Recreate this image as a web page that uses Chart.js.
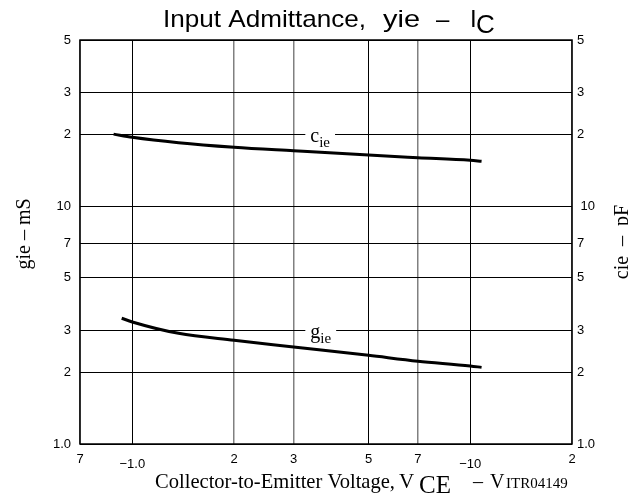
<!DOCTYPE html>
<html>
<head>
<meta charset="utf-8">
<script src="https://cdn.jsdelivr.net/npm/chart.js@4.4.1/dist/chart.umd.min.js"></script>
<style>
  html, body { margin: 0; padding: 0; background: #fff; }
  #wrap { width: 628px; height: 498px; position: relative; }
</style>
</head>
<body>
<div id="wrap"><canvas id="c" width="628" height="498"></canvas></div>
<script>
// ---- data ----
const xTickValues = [0.7, 1, 2, 3, 5, 7, 10, 20];
const xTickLabels = ['7', '\u22121.0', '2', '3', '5', '7', '\u221210', '2'];
const xNegativeTicks = [1, 10];
const xStrongGrid = [1, 5, 10];
const yTickValues = [1, 2, 3, 5, 7, 10, 20, 30, 50];
const yTickLabelsLeft = ['1.0', '2', '3', '5', '7', '10', '2', '3', '5'];
const yTickLabelsRight = ['1.0', '2', '3', '5', '7', ' 10', '2', '3', '5'];

const cieVce = [0.88, 1.0, 1.37, 2, 3, 5, 7, 10, 10.8];
const cieValues = [20.1, 19.5, 18.5, 17.7, 17.1, 16.4, 16.0, 15.6, 15.45];
const gieVce = [0.93, 1.0, 1.37, 2, 3, 5, 7, 10, 10.8];
const gieValues = [3.38, 3.26, 2.92, 2.73, 2.56, 2.36, 2.23, 2.13, 2.10];

const curveLabels = [
  { main: 'c', sub: 'ie', x: 3.25, y: 20 },
  { main: 'g', sub: 'ie', x: 3.25, y: 3 }
];

const toPts = (xs, ys) => xs.map((x, i) => ({ x: x, y: ys[i] }));

const SANS = '"Liberation Sans", Arial, sans-serif';
const SERIF = '"Liberation Serif", "Times New Roman", serif';

// draw text so that it spans [x0, x1] horizontally
function fitText(ctx, text, font, x0, x1, baseline) {
  ctx.save();
  ctx.font = font;
  const w = ctx.measureText(text).width;
  ctx.translate(x0, baseline);
  ctx.scale((x1 - x0) / w, 1);
  ctx.textAlign = 'left';
  ctx.textBaseline = 'alphabetic';
  ctx.fillText(text, 0, 0);
  ctx.restore();
}
function plainText(ctx, text, font, x, baseline) {
  ctx.save();
  ctx.font = font;
  ctx.textAlign = 'left';
  ctx.textBaseline = 'alphabetic';
  ctx.fillText(text, x, baseline);
  ctx.restore();
}

const decorPlugin = {
  id: 'decor',
  beforeDatasetsDraw(chart) {
    const ctx = chart.ctx;
    const xs = chart.scales.x, ys = chart.scales.y;
    ctx.save();
    curveLabels.forEach(l => {
      const px = xs.getPixelForValue(l.x);
      const py = ys.getPixelForValue(l.y);
      ctx.font = '20px ' + SERIF;
      const w1 = ctx.measureText(l.main).width;
      ctx.font = '15px ' + SERIF;
      const w2 = ctx.measureText(l.sub).width;
      ctx.fillStyle = '#fff';
      ctx.fillRect(px, py - 3, w1 + w2 + 10, 6);
      ctx.fillStyle = '#000';
      ctx.textBaseline = 'alphabetic';
      ctx.textAlign = 'left';
      ctx.font = '20px ' + SERIF;
      ctx.fillText(l.main, px + 5, py + 7);
      ctx.font = '15px ' + SERIF;
      ctx.fillText(l.sub, px + 5 + w1, py + 12);
    });
    ctx.restore();
  },
  afterDraw(chart) {
    const ctx = chart.ctx;
    const a = chart.chartArea;
    ctx.save();
    // frame
    ctx.strokeStyle = '#000';
    ctx.lineWidth = 1.5;
    ctx.strokeRect(a.left, a.top, a.right - a.left, a.bottom - a.top);

    ctx.fillStyle = '#000';
    // main title
    fitText(ctx, 'Input Admittance,', '24px ' + SANS, 163, 366, 27);
    fitText(ctx, 'yie', '24px ' + SANS, 383, 420, 27);
    plainText(ctx, '\u2013', '24px ' + SANS, 436, 27);
    plainText(ctx, 'I', '24px ' + SANS, 470, 27);
    plainText(ctx, 'C', '26px ' + SANS, 476, 33);

    // x axis title
    fitText(ctx, 'Collector-to-Emitter Voltage,', '21px ' + SERIF, 155, 395, 488);
    plainText(ctx, 'V', '21px ' + SERIF, 399, 488);
    plainText(ctx, 'CE', '25px ' + SERIF, 419, 493);
    plainText(ctx, '\u2013', '20px ' + SERIF, 473, 488);
    plainText(ctx, 'V', '20px ' + SERIF, 490, 488);
    plainText(ctx, 'ITR04149', '15px ' + SERIF, 506, 488);

    // y titles (rotated)
    ctx.font = '20px ' + SERIF;
    ctx.textAlign = 'center';
    ctx.textBaseline = 'alphabetic';
    ctx.save();
    ctx.translate(30, 234);
    ctx.rotate(-Math.PI / 2);
    ctx.fillText('gie \u2013 mS', 0, 0);
    ctx.restore();
    ctx.save();
    ctx.translate(628, 242);
    ctx.rotate(-Math.PI / 2);
    ctx.fillText('cie  \u2013  pF', 0, 0);
    ctx.restore();
    ctx.restore();
  }
};

new Chart(document.getElementById('c'), {
  type: 'line',
  data: {
    datasets: [
      { label: 'cie', data: toPts(cieVce, cieValues), yAxisID: 'y' },
      { label: 'gie', data: toPts(gieVce, gieValues), yAxisID: 'y' }
    ]
  },
  options: {
    responsive: false,
    animation: false,
    devicePixelRatio: 1,
    layout: { padding: { top: 40, left: 0, right: 0, bottom: 0 } },
    elements: {
      line: { borderColor: '#000', borderWidth: 3, cubicInterpolationMode: 'monotone', fill: false },
      point: { radius: 0 }
    },
    plugins: { legend: { display: false }, title: { display: false }, tooltip: { enabled: false } },
    scales: {
      x: {
        type: 'logarithmic', position: 'bottom', min: 0.7, max: 20,
        afterBuildTicks: s => { s.ticks = xTickValues.map(v => ({ value: v })); },
        afterFit: s => { s.height = 54; },
        border: { display: false },
        grid: {
          drawTicks: false,
          color: c => (c.tick && xStrongGrid.includes(c.tick.value)) ? '#000' : '#808080',
          lineWidth: c => (c.tick && xStrongGrid.includes(c.tick.value)) ? 1 : 1.5
        },
        ticks: {
          autoSkip: false, maxRotation: 0, minRotation: 0, padding: 8, color: '#000',
          font: c => ({ family: SANS, size: 13, lineHeight: (c.tick && xNegativeTicks.includes(c.tick.value)) ? 1.9 : 1.2 }),
          callback: (v, i) => xTickLabels[i]
        }
      },
      y: {
        type: 'logarithmic', position: 'left', min: 1, max: 50,
        afterBuildTicks: s => { s.ticks = yTickValues.map(v => ({ value: v })); },
        afterFit: s => { s.width = 80; },
        border: { display: false },
        grid: { drawTicks: false, color: '#000', lineWidth: 1 },
        ticks: {
          autoSkip: false, padding: 9, color: '#000',
          font: { family: SANS, size: 13 },
          callback: (v, i) => yTickLabelsLeft[i]
        }
      },
      y2: {
        type: 'logarithmic', position: 'right', min: 1, max: 50,
        afterBuildTicks: s => { s.ticks = yTickValues.map(v => ({ value: v })); },
        afterFit: s => { s.width = 56; },
        border: { display: false },
        grid: { display: false, drawTicks: false },
        ticks: {
          autoSkip: false, padding: 5, color: '#000',
          font: { family: SANS, size: 13 },
          callback: (v, i) => yTickLabelsRight[i]
        }
      }
    }
  },
  plugins: [decorPlugin]
});
</script>
</body>
</html>
